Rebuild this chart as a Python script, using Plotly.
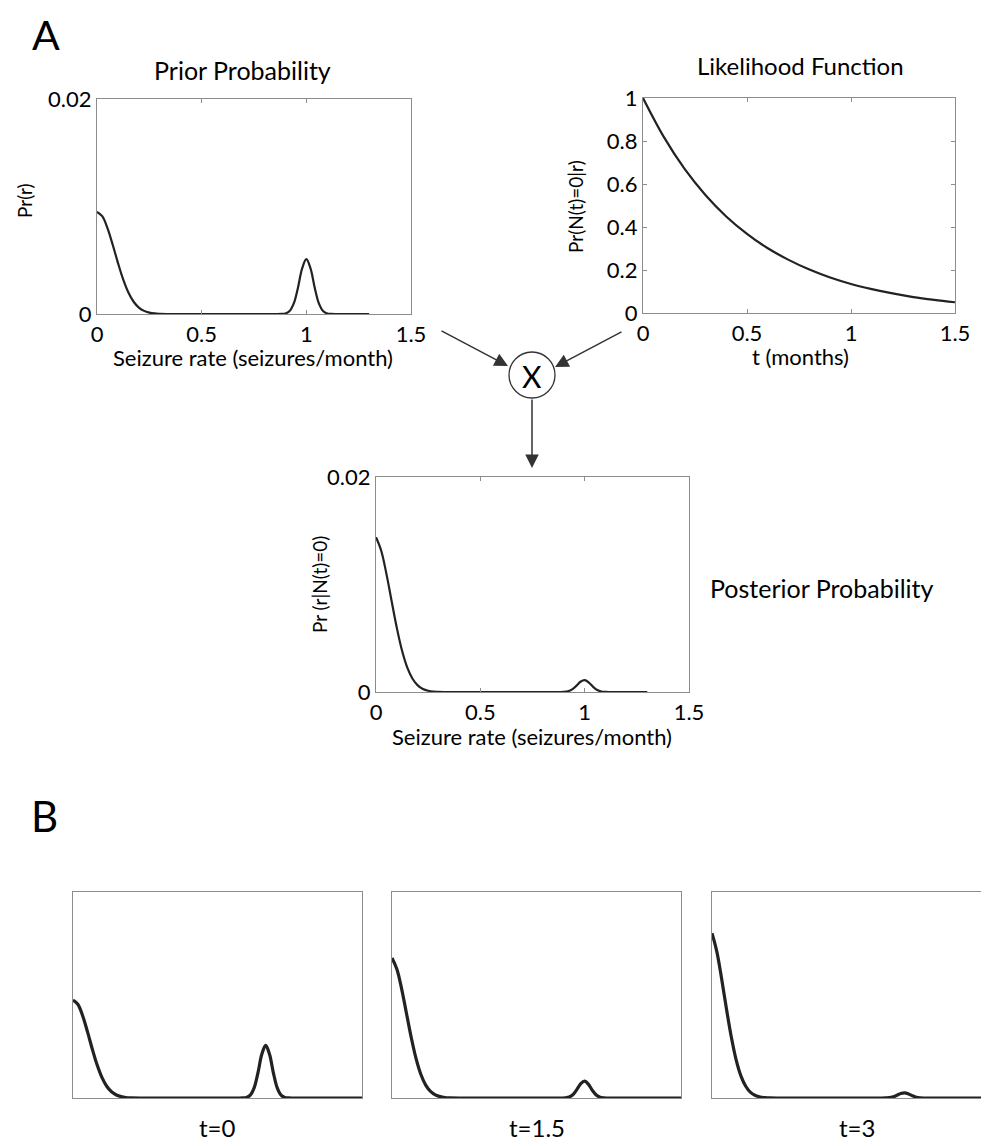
import plotly.graph_objects as go

W, H = 989, 1146
OFF = 8  # page body margin of the html page

# ---------------- data ----------------
rate_A = [0, 0.025, 0.05, 0.075, 0.1, 0.125, 0.15, 0.175, 0.2, 0.225, 0.25, 0.275, 0.3,
          0.35, 0.4, 0.5, 0.6, 0.7, 0.8, 0.86,
          0.88, 0.9, 0.92, 0.94, 0.96, 0.98, 1.0, 1.02, 1.04, 1.06, 1.08, 1.1, 1.12, 1.14, 1.2, 1.3]

prior_pr = [0.00950, 0.00910, 0.00799, 0.00644, 0.00476, 0.00322, 0.00200, 0.00114, 0.00060,
            0.00029, 0.00013, 0.00005, 0.00002,
            0, 0, 0, 0, 0, 0, 0,
            0.00001, 0.00005, 0.00027, 0.00098, 0.00245, 0.00424, 0.00510, 0.00424, 0.00245,
            0.00098, 0.00027, 0.00005, 0.00001, 0, 0, 0]

posterior_pr = [0.01440, 0.01314, 0.01099, 0.00844, 0.00594, 0.00383, 0.00226, 0.00123, 0.00062,
                0.00028, 0.00012, 0.00004, 0.00002,
                0, 0, 0, 0, 0, 0, 0,
                0, 0.00001, 0.00007, 0.00024, 0.00057, 0.00095, 0.00110, 0.00088, 0.00049,
                0.00019, 0.00005, 0.00001, 0, 0, 0, 0]

t_months = [0, 0.1, 0.2, 0.3, 0.4, 0.5, 0.6, 0.7, 0.8, 0.9, 1.0, 1.1, 1.2, 1.3, 1.4, 1.5]
likelihood = [1.0, 0.819, 0.670, 0.549, 0.449, 0.368, 0.301, 0.247, 0.202, 0.165,
              0.135, 0.111, 0.091, 0.074, 0.061, 0.050]

rate_B = [0, 0.025, 0.05, 0.075, 0.1, 0.125, 0.15, 0.175, 0.2, 0.225, 0.25, 0.275, 0.3,
          0.35, 0.4, 0.5, 0.6, 0.7, 0.8, 0.86,
          0.88, 0.9, 0.92, 0.94, 0.96, 0.98, 1.0, 1.02, 1.04, 1.06, 1.08, 1.1, 1.12, 1.14, 1.2, 1.3,
          1.4, 1.5]

post_t0 = [0.00950, 0.00910, 0.00799, 0.00644, 0.00476, 0.00322, 0.00200, 0.00114, 0.00060,
           0.00029, 0.00013, 0.00005, 0.00002,
           0, 0, 0, 0, 0, 0, 0,
           0.00001, 0.00005, 0.00027, 0.00098, 0.00245, 0.00424, 0.00510, 0.00424, 0.00245,
           0.00098, 0.00027, 0.00005, 0.00001, 0, 0, 0,
           0, 0]

post_t15 = [0.01359, 0.01253, 0.01060, 0.00823, 0.00586, 0.00382, 0.00228, 0.00125, 0.00064,
            0.00030, 0.00013, 0.00005, 0.00002,
            0, 0, 0, 0, 0, 0, 0,
            0, 0.00002, 0.00010, 0.00034, 0.00083, 0.00140, 0.00163, 0.00132, 0.00074,
            0.00029, 0.00008, 0.00001, 0, 0, 0, 0,
            0, 0]

post_t3 = [0.01600, 0.01421, 0.01158, 0.00866, 0.00594, 0.00373, 0.00215, 0.00114, 0.00055,
           0.00025, 0.00010, 0.00004, 0.00001,
           0, 0, 0, 0, 0, 0, 0,
           0, 0.00001, 0.00003, 0.00011, 0.00027, 0.00044, 0.00050, 0.00039, 0.00021,
           0.00008, 0.00002, 0, 0, 0, 0, 0,
           0, 0]

B_labels = ["t=0", "t=1.5", "t=3"]
B_series = [post_t0, post_t15, post_t3]

rate_ticks = [0, 0.5, 1, 1.5]
rate_ticktext = ["0", "0.5", "1", "1.5"]
pr_ticks = [0, 0.02]
pr_ticktext = ["0", "0.02"]
lik_ticks = [0, 0.2, 0.4, 0.6, 0.8, 1.0]
lik_ticktext = ["0", "0.2", "0.4", "0.6", "0.8", "1"]

# ---------------- helpers ----------------
FONT = "Lato"
LINE = "#222222"
AXC = "#8c8c8c"


def fx(p):
    return (p - OFF) / W


def fy(p):
    return 1 - (p - OFF) / H


def dom_x(a, b):
    return [max(0, fx(a)), min(1, fx(b))]


def dom_y(top, bottom):
    return [fy(bottom), fy(top)]


fig = go.Figure()

# ---- panel A traces ----
fig.add_trace(go.Scatter(x=rate_A, y=prior_pr, mode="lines", line=dict(color=LINE, width=2.2, shape="spline"),
                         xaxis="x", yaxis="y", showlegend=False))
fig.add_trace(go.Scatter(x=t_months, y=likelihood, mode="lines", line=dict(color=LINE, width=2.2, shape="spline"),
                         xaxis="x2", yaxis="y2", showlegend=False))
fig.add_trace(go.Scatter(x=rate_A, y=posterior_pr, mode="lines", line=dict(color=LINE, width=2.2, shape="spline"),
                         xaxis="x3", yaxis="y3", showlegend=False))

# ---- panel B traces ----
for i, ys in enumerate(B_series):
    n = i + 4
    fig.add_trace(go.Scatter(x=rate_B, y=ys, mode="lines", line=dict(color=LINE, width=3.2, shape="spline"),
                             xaxis=f"x{n}", yaxis=f"y{n}", showlegend=False))

tickfont = dict(family=FONT, size=22, color="black")
common = dict(showline=True, linecolor=AXC, linewidth=1.2, mirror="ticks", ticks="inside",
              ticklen=4, tickcolor=AXC, showgrid=False, zeroline=False, tickfont=tickfont,
              automargin=False)

layout = dict(
    width=W, height=H, autosize=False,
    margin=dict(l=0, r=0, t=0, b=0, pad=0, autoexpand=False),
    paper_bgcolor="white", plot_bgcolor="white",
)

# prior
layout["xaxis"] = dict(common, domain=dom_x(97, 411), range=[0, 1.5], tickvals=rate_ticks,
                       ticktext=rate_ticktext, anchor="y")
layout["yaxis"] = dict(common, domain=dom_y(99, 314), range=[0, 0.02], tickvals=pr_ticks,
                       ticktext=pr_ticktext, anchor="x")
# likelihood
layout["xaxis2"] = dict(common, domain=dom_x(643, 955), range=[0, 1.5], tickvals=rate_ticks,
                        ticktext=rate_ticktext, anchor="y2")
layout["yaxis2"] = dict(common, domain=dom_y(98, 313), range=[0, 1.0], tickvals=lik_ticks,
                        ticktext=lik_ticktext, anchor="x2")
# posterior
layout["xaxis3"] = dict(common, domain=dom_x(376, 689), range=[0, 1.5], tickvals=rate_ticks,
                        ticktext=rate_ticktext, anchor="y3")
layout["yaxis3"] = dict(common, domain=dom_y(477, 692), range=[0, 0.02], tickvals=pr_ticks,
                        ticktext=pr_ticktext, anchor="x3")

# B panels
b_left = [73, 392, 712]
b_width = 289
for i, left in enumerate(b_left):
    n = i + 4
    right = left + b_width
    xmax = 1.5
    if right > W:
        xmax = 1.5 * (W - left) / b_width
        right = W
    layout[f"xaxis{n}"] = dict(showline=True, linecolor=AXC, linewidth=1.2, mirror=True, ticks="",
                               showticklabels=False, showgrid=False, zeroline=False, automargin=False,
                               domain=dom_x(left, right), range=[0, xmax], anchor=f"y{n}")
    layout[f"yaxis{n}"] = dict(showline=True, linecolor=AXC, linewidth=1.2, mirror=(right < W), ticks="",
                               showticklabels=False, showgrid=False, zeroline=False, automargin=False,
                               domain=dom_y(892, 1098), range=[0, 0.02], anchor=f"x{n}")

fig.update_layout(**layout)

# ---------------- text ----------------
ann = []


def text(s, x, y, size, angle=0):
    ann.append(dict(text=s, x=fx(x), y=fy(y), xref="paper", yref="paper", showarrow=False,
                    xanchor="center", yanchor="middle", textangle=angle,
                    font=dict(family=FONT, size=size, color="black")))


text("A", 46, 35, 41)
text("B", 44, 816, 42)
text("Prior Probability", 242, 70, 25)
text("Likelihood Function", 800, 66, 24)
text("Posterior Probability", 822, 588, 25)
text("Seizure rate (seizures/month)", 253, 358, 22)
text("t (months)", 800, 356, 22)
text("Seizure rate (seizures/month)", 532, 736, 22)
text("Pr(r)", 24, 201, 19, -90)
text("Pr(N(t)=0|r)", 575, 207, 19, -90)
text("Pr (r|N(t)=0)", 319, 585, 19, -90)
for lab, left in zip(B_labels, b_left):
    text(lab, left + b_width / 2, 1127, 24)
text("X", 532, 376, 30)


def arrow(tip, tail):
    ann.append(dict(text="", x=fx(tip[0]), y=fy(tip[1]), xref="paper", yref="paper",
                    showarrow=True, ax=tail[0] - tip[0], ay=tail[1] - tip[1],
                    axref="pixel", ayref="pixel", arrowhead=2, arrowsize=1.8,
                    arrowwidth=1.5, arrowcolor="#333333", standoff=0))


arrow((508, 366), (440, 330))
arrow((555, 367), (623, 331))
arrow((532, 468), (532, 398))

fig.update_layout(annotations=ann)
fig.add_shape(type="circle", xref="paper", yref="paper",
              x0=fx(509), x1=fx(555), y0=fy(398), y1=fy(352),
              line=dict(color="#333333", width=1.3), fillcolor="white", layer="above")

fig.write_html("out.html")
